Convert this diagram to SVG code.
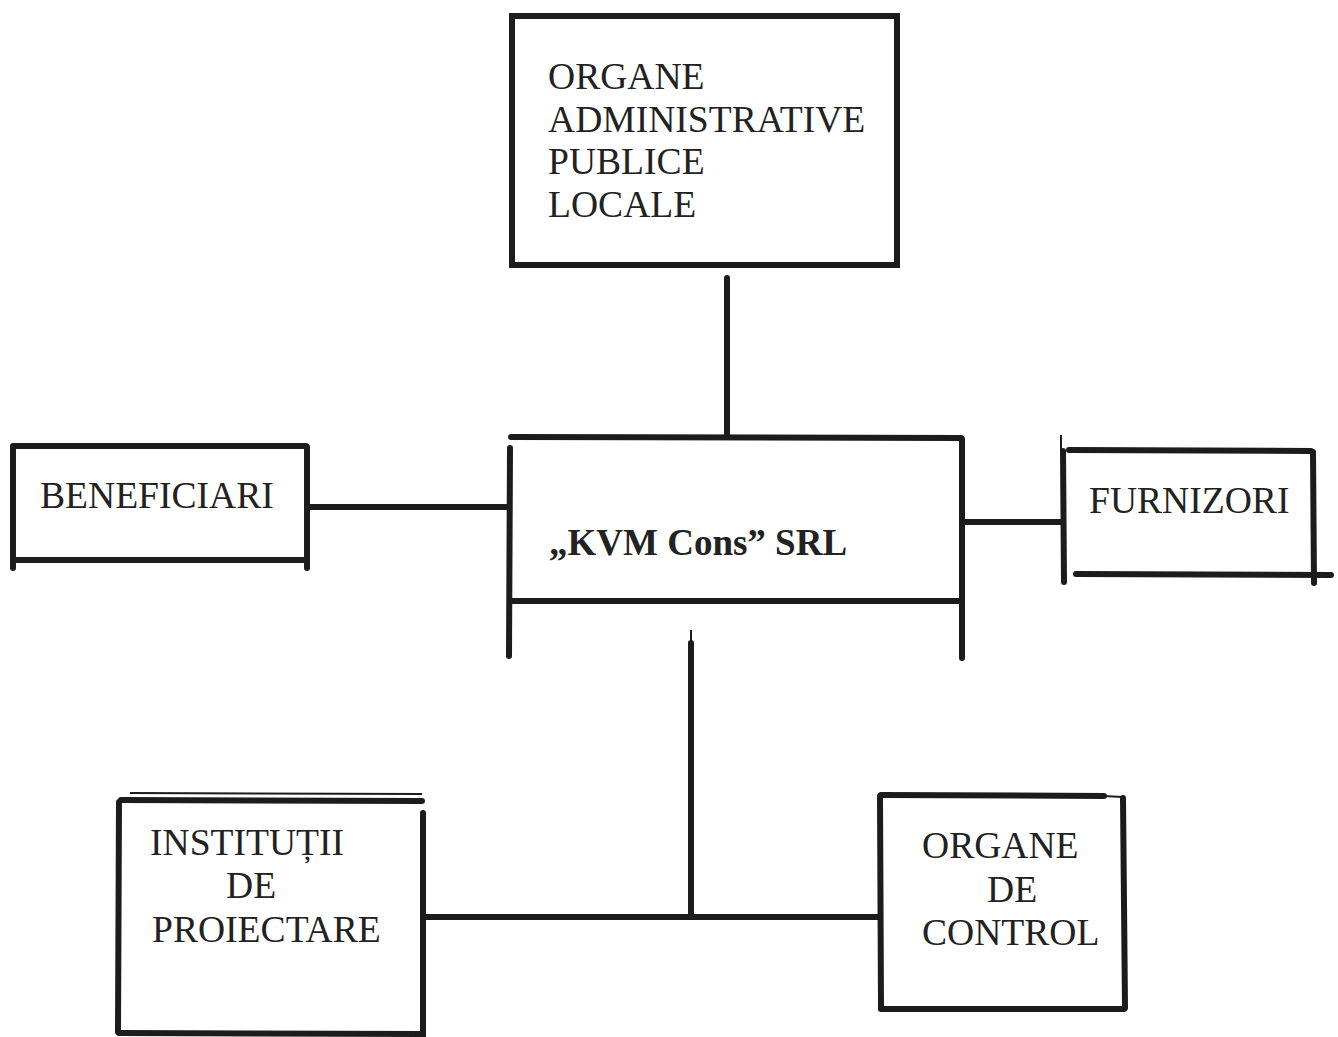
<svg xmlns="http://www.w3.org/2000/svg" width="1338" height="1037" viewBox="0 0 1338 1037">
<style>
  .ln { stroke: #1c1c1c; stroke-width: 6; stroke-linecap: round; fill: none; }
  .thin { stroke: #1c1c1c; stroke-width: 2; fill: none; }
  .t { font-family: "Liberation Serif", "Times New Roman", serif; font-size: 37.6px; fill: #222; }
  .b { font-family: "Liberation Serif", "Times New Roman", serif; font-size: 37px; font-weight: bold; fill: #222; }
</style>
<rect width="1338" height="1037" fill="#ffffff"/>

<g id="connectors">
  <line class="ln" x1="727" y1="278" x2="727" y2="436"/>
  <line class="ln" x1="308" y1="507" x2="509" y2="507"/>
  <line class="ln" x1="962" y1="522" x2="1063" y2="522"/>
  <line class="ln" x1="691" y1="643" x2="691" y2="917"/>
  <line class="thin" x1="691" y1="630" x2="691" y2="645"/>
  <line class="ln" x1="424" y1="917" x2="879" y2="917"/>
</g>

<g id="organe-administrative">
  <rect class="ln" x="512" y="16" width="385" height="249"/>
  <text class="t" x="548" y="89">ORGANE</text>
  <text class="t" x="548" y="132">ADMINISTRATIVE</text>
  <text class="t" x="548" y="174">PUBLICE</text>
  <text class="t" x="548" y="217">LOCALE</text>
</g>

<g id="kvm-cons">
  <line class="ln" x1="511" y1="437" x2="961" y2="438"/>
  <line class="ln" x1="510" y1="448" x2="509" y2="656"/>
  <line class="ln" x1="962" y1="439" x2="962" y2="658"/>
  <line class="ln" x1="512" y1="601" x2="960" y2="601"/>
  <text class="b" x="549" y="555">„KVM Cons” SRL</text>
</g>

<g id="beneficiari">
  <line class="ln" x1="13" y1="446" x2="306" y2="446"/>
  <line class="ln" x1="13" y1="447" x2="13" y2="568"/>
  <line class="ln" x1="307" y1="447" x2="307" y2="568"/>
  <line class="ln" x1="14" y1="560" x2="306" y2="560"/>
  <text class="t" x="40" y="508">BENEFICIARI</text>
</g>

<g id="furnizori">
  <line class="ln" x1="1069" y1="450" x2="1311" y2="451"/>
  <line class="ln" x1="1313" y1="452" x2="1314" y2="583"/>
  <line class="ln" x1="1063" y1="451" x2="1064" y2="582"/>
  <line class="thin" x1="1061" y1="435" x2="1061" y2="452"/>
  <line class="ln" x1="1076" y1="574" x2="1331" y2="575"/>
  <text class="t" x="1089" y="513">FURNIZORI</text>
</g>

<g id="institutii">
  <line class="thin" x1="130" y1="793" x2="422" y2="794"/>
  <line class="ln" x1="121" y1="800" x2="422" y2="801"/>
  <line class="ln" x1="119" y1="802" x2="118" y2="1032"/>
  <line class="ln" x1="423" y1="813" x2="423" y2="1037"/>
  <line class="ln" x1="119" y1="1033" x2="422" y2="1034"/>
  <text class="t" x="150" y="855">INSTITUȚII</text>
  <text class="t" x="226" y="898">DE</text>
  <text class="t" x="152" y="942">PROIECTARE</text>
</g>

<g id="organe-control">
  <line class="ln" x1="881" y1="795" x2="1104" y2="796"/>
  <line class="thin" x1="1104" y1="796" x2="1122" y2="797"/>
  <line class="ln" x1="880" y1="796" x2="881" y2="1008"/>
  <line class="ln" x1="1123" y1="798" x2="1125" y2="1008"/>
  <line class="ln" x1="881" y1="1009" x2="1124" y2="1009"/>
  <text class="t" x="922" y="858">ORGANE</text>
  <text class="t" x="987" y="902">DE</text>
  <text class="t" x="922" y="945">CONTROL</text>
</g>
</svg>
